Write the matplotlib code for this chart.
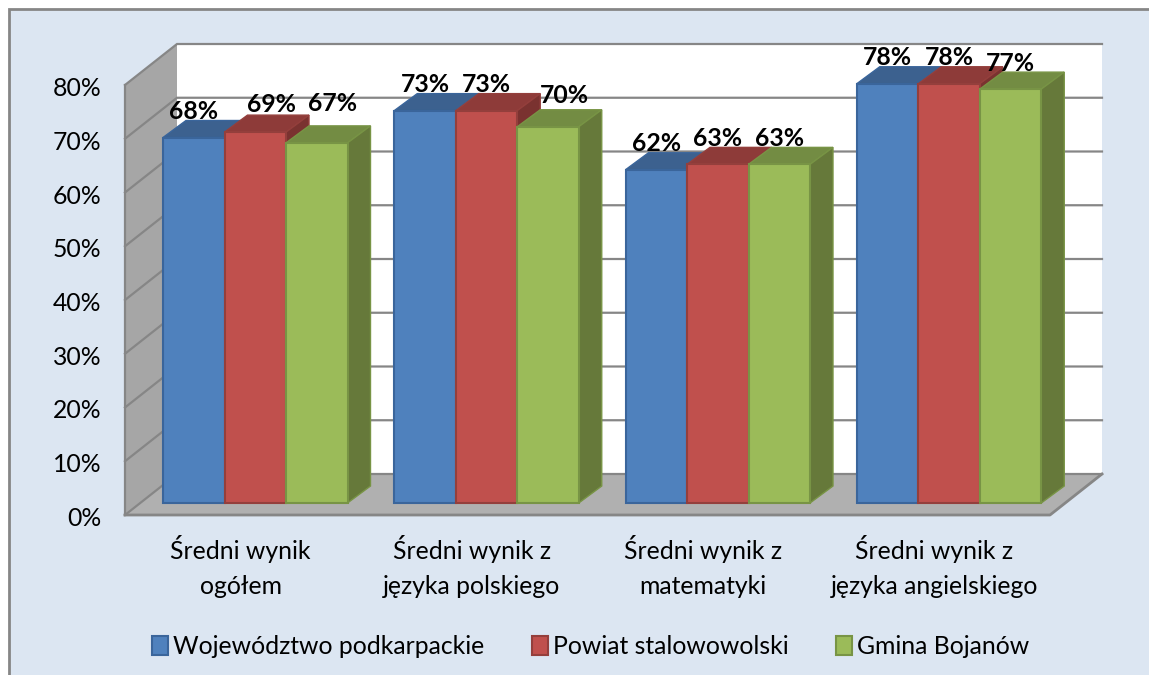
from matplotlib import pyplot as plt
from matplotlib.patches import Patch, Polygon, Rectangle
from matplotlib.transforms import ScaledTranslation

categories = ['Średni wynik\nogółem', 'Średni wynik z\njęzyka polskiego',
              'Średni wynik z\nmatematyki', 'Średni wynik z\njęzyka angielskiego']
series_names = ['Województwo podkarpackie', 'Powiat stalowowolski', 'Gmina Bojanów']
wojewodztwo = [68, 73, 62, 78]
powiat = [69, 73, 63, 78]
gmina = [67, 70, 63, 77]
y_ticks = [0, 10, 20, 30, 40, 50, 60, 70, 80]

#----------------------------------------------------
W, H = 1149, 675
front_colors = ['#4F81BD', '#C0504D', '#9BBB59']
edge_colors = ['#3A659B', '#943F3C', '#789445']
top_colors = ['#3C618F', '#8E3B39', '#738C43']
side_colors = ['#30507A', '#7A3230', '#66793A']

# front plane of the chart box, in pixels
left, right, bottom, top = 125, 1050, 515, 85
px_x = 4 / (right - left)
px_y = 80 / (bottom - top)
depth_x = 52 * px_x
depth_y = 41 * px_y
# bars stand a bit behind the front edge
lift_x = 38 * px_x
lift_y = 12 * px_y
bar_w = 61.5 * px_x
bar_dx = 23 * px_x
bar_dy = 17 * px_y
font_size = 17.8
# labels that were dragged away from their bar: (category, series): (px right, px up)
moved_labels = {(0, 1): (16, 2), (0, 2): (16, 13), (1, 2): (16, 5)}
#----------------------------------------------------

plt.rcParams['font.family'] = ['Lato', 'DejaVu Sans']
fig = plt.figure(figsize=(W / 100, H / 100), dpi=100, facecolor='white')
fig.add_artist(Rectangle((9 / W, -0.02), (W + 20) / W, (H - 9) / H + 0.02, transform=fig.transFigure,
                         facecolor='#DCE6F2', edgecolor='#868686', linewidth=2, zorder=-1))

ax = fig.add_axes([left / W, 1 - bottom / H, (right - left) / W, (bottom - top) / H])
ax.set_xlim(0, 4)
ax.set_ylim(0, 80)
ax.patch.set_visible(False)
for s in ax.spines.values():
    s.set_visible(False)

# back wall, side wall, floor
ax.add_patch(Polygon([(depth_x, depth_y), (4 + depth_x, depth_y), (4 + depth_x, 80 + depth_y), (depth_x, 80 + depth_y)],
                     facecolor='white', edgecolor='none', clip_on=False, zorder=1))
ax.add_patch(Polygon([(0, 0), (depth_x, depth_y), (depth_x, 80 + depth_y), (0, 80)],
                     facecolor='#A6A6A6', edgecolor='none', clip_on=False, zorder=1))
ax.add_patch(Polygon([(0, 0), (4, 0), (4 + depth_x, depth_y), (depth_x, depth_y)],
                     facecolor='#B0B0B0', edgecolor='none', clip_on=False, zorder=1))
ax.plot([0, 4, 4 + depth_x], [0, 0, depth_y], color='#868686', lw=2, clip_on=False, zorder=2)
for t in y_ticks:
    ax.plot([0, depth_x, 4 + depth_x], [t, t + depth_y, t + depth_y], color='#868686', lw=1.6,
            clip_on=False, zorder=2, solid_joinstyle='miter')
ax.plot([0, 0], [0, 80], color='#868686', lw=1.6, clip_on=False, zorder=2)

# bars, drawn back to front, left to right
all_series = [wojewodztwo, powiat, gmina]
for i in range(len(categories)):
    for j, values in enumerate(all_series):
        v = values[i]
        x0 = i + lift_x + j * bar_w
        x1 = x0 + bar_w
        y1 = v + lift_y
        z = 3 + i + j * 0.1
        ax.add_patch(Polygon([(x0, y1), (x1, y1), (x1 + bar_dx, y1 + bar_dy), (x0 + bar_dx, y1 + bar_dy)],
                             facecolor=top_colors[j], edgecolor=edge_colors[j], lw=1, clip_on=False, zorder=z))
        ax.add_patch(Polygon([(x1, lift_y), (x1 + bar_dx, lift_y + bar_dy), (x1 + bar_dx, y1 + bar_dy), (x1, y1)],
                             facecolor=side_colors[j], edgecolor=edge_colors[j], lw=1, clip_on=False, zorder=z))
        ax.bar(x0, v, width=bar_w, bottom=lift_y, align='edge', color=front_colors[j],
               edgecolor=edge_colors[j], linewidth=1.5, clip_on=False, zorder=z)

for i in range(len(categories)):
    for j, values in enumerate(all_series):
        x0 = i + lift_x + j * bar_w
        sx, sy = moved_labels.get((i, j), (0, 0))
        ax.text(x0 + bar_w / 2 + sx * px_x, values[i] + lift_y + (26 + sy) * px_y, str(values[i]) + '%',
                ha='center', va='center', fontsize=font_size, fontweight='bold', color='black',
                clip_on=False, zorder=10)

ax.set_yticks(y_ticks)
ax.set_yticklabels([str(t) + '%' for t in y_ticks], fontsize=font_size, color='black')
ax.set_xticks([i + 0.5 for i in range(len(categories))])
ax.set_xticklabels(categories, fontsize=font_size, color='black', linespacing=1.63)
ax.tick_params(axis='both', length=0)
ax.tick_params(axis='y', pad=17)
ax.tick_params(axis='x', pad=14.5)
for label in ax.get_yticklabels():
    label.set_transform(label.get_transform() + ScaledTranslation(0, -1.5 / 100, fig.dpi_scale_trans))

handles = [Patch(facecolor=front_colors[k], edgecolor=edge_colors[k], linewidth=1.5) for k in range(3)]
fig.legend(handles, series_names, ncol=3, loc='center', bbox_to_anchor=(591 / W, 1 - 647 / H), frameon=False,
           fontsize=font_size, handlelength=0.62, handleheight=0.8, handletextpad=0.23, columnspacing=1.92)

plt.savefig('out.png', dpi=100, facecolor=fig.get_facecolor())
